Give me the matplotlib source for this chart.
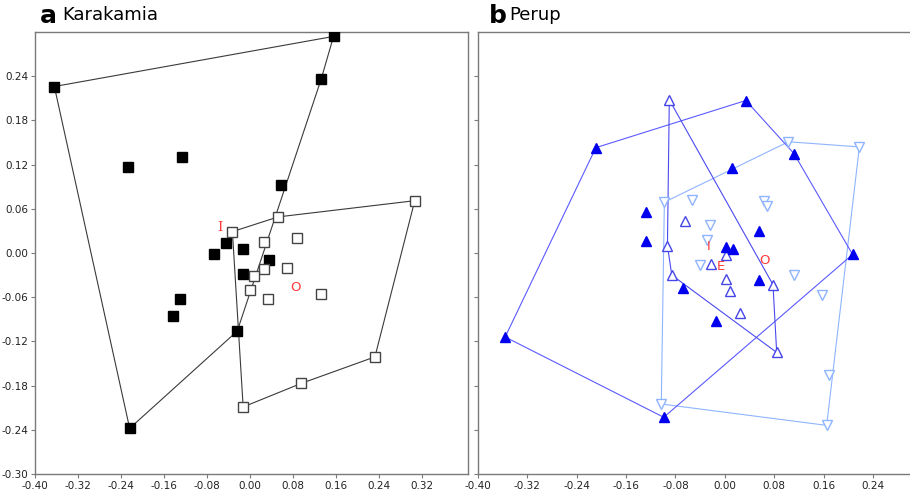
import numpy as np
import matplotlib
matplotlib.use("Agg")
import matplotlib.pyplot as plt

# ---- Karakamia (panel a) ----
kara_filled_x = [-0.364, 0.155, 0.132, -0.024, -0.224, -0.228, -0.127, 0.057,
                 -0.045, -0.067, -0.013, 0.035, -0.013, -0.131, -0.144]
kara_filled_y = [0.226, 0.294, 0.236, -0.106, -0.238, 0.117, 0.130, 0.092,
                 0.014, -0.001, 0.005, -0.010, -0.029, -0.062, -0.086]
kara_filled_hull = [0, 1, 2, 3, 4, 0]

kara_open_x = [-0.033, 0.052, 0.306, 0.232, 0.095, -0.013, 0.025, 0.088,
               0.025, 0.007, 0.069, -0.001, 0.033, 0.131]
kara_open_y = [0.029, 0.049, 0.071, -0.141, -0.177, -0.209, 0.015, 0.021,
               -0.022, -0.031, -0.021, -0.050, -0.063, -0.056]
kara_open_hull = [0, 1, 2, 3, 4, 5, 0]

kara_labels = ["I", "O"]
kara_label_x = [-0.057, 0.085]
kara_label_y = [0.034, -0.047]

# ---- Perup (panel b) ----
perup_filled_x = [-0.209, 0.034, 0.112, 0.207, -0.099, -0.356, 0.011, -0.127,
                  -0.127, 0.055, 0.002, 0.014, 0.055, -0.068, -0.015]
perup_filled_y = [0.143, 0.207, 0.135, -0.002, -0.223, -0.114, 0.115, 0.056,
                  0.016, 0.030, 0.008, 0.006, -0.036, -0.048, -0.092]
perup_filled_hull = [0, 1, 2, 3, 4, 5, 0]

perup_up_x = [-0.090, -0.093, -0.086, 0.084, 0.078, -0.065, 0.002, -0.022,
              0.002, 0.008, 0.024]
perup_up_y = [0.208, 0.010, -0.030, -0.135, -0.043, 0.043, -0.003, -0.015,
              -0.035, -0.051, -0.082]
perup_up_hull = [0, 1, 2, 3, 4, 0]

perup_down_x = [-0.098, 0.103, 0.218, 0.165, -0.103, -0.053, 0.064, 0.068,
                -0.024, -0.029, -0.040, 0.112, 0.157, 0.169]
perup_down_y = [0.069, 0.151, 0.144, -0.234, -0.205, 0.072, 0.071, 0.064,
                0.038, 0.018, -0.016, -0.030, -0.057, -0.166]
perup_down_hull = [0, 1, 2, 3, 4, 0]

perup_labels = ["I", "E", "O"]
perup_label_x = [-0.026, -0.006, 0.064]
perup_label_y = [0.009, -0.019, -0.010]

xticks_a = [-0.40, -0.32, -0.24, -0.16, -0.08, 0.00, 0.08, 0.16, 0.24, 0.32]
xticks_b = [-0.40, -0.32, -0.24, -0.16, -0.08, 0.00, 0.08, 0.16, 0.24]
yticks = [-0.30, -0.24, -0.18, -0.12, -0.06, 0.00, 0.06, 0.12, 0.18, 0.24]

label_red = "#ff3b3b"
frame_grey = "#7a7a7a"


def hull(ax, xs, ys, order, color):
    ax.plot([xs[i] for i in order], [ys[i] for i in order], color=color,
            lw=0.8, zorder=2)


def style(ax, xticks, show_y):
    ax.set_ylim(-0.30, 0.30)
    ax.set_xticks(xticks)
    ax.set_xticklabels([f"{t:.2f}" for t in xticks])
    ax.set_yticks(yticks)
    if show_y:
        ax.set_yticklabels([f"{t:.2f}" for t in yticks])
    else:
        ax.set_yticklabels([])
    ax.tick_params(labelsize=7.5, length=3, width=0.8, color=frame_grey,
                   labelcolor="#222222", pad=2)
    for s in ax.spines.values():
        s.set_color(frame_grey)
        s.set_linewidth(1.0)


fig = plt.figure(figsize=(9.1, 4.92), dpi=100)
ax1 = fig.add_axes([35 / 910, 18 / 492, 433 / 910, 442 / 492])
ax2 = fig.add_axes([478 / 910, 18 / 492, 440 / 910, 442 / 492])

# panel a
hull(ax1, kara_filled_x, kara_filled_y, kara_filled_hull, "#3a3a3a")
hull(ax1, kara_open_x, kara_open_y, kara_open_hull, "#3a3a3a")
ax1.plot(kara_filled_x, kara_filled_y, "s", ms=7, color="black", mec="black",
         ls="none", zorder=3)
ax1.plot(kara_open_x, kara_open_y, "s", ms=7, mfc="white", mec="#444444",
         mew=1.0, ls="none", zorder=3)
for t, x, y in zip(kara_labels, kara_label_x, kara_label_y):
    ax1.text(x, y, t, color=label_red, fontsize=9.5, ha="center", va="center",
             family="DejaVu Serif" if t == "I" else "DejaVu Sans", zorder=4)
ax1.set_xlim(-0.40, 0.405)
style(ax1, xticks_a, True)

# panel b
hull(ax2, perup_down_x, perup_down_y, perup_down_hull, "#8fb4ff")
hull(ax2, perup_filled_x, perup_filled_y, perup_filled_hull, "#5a5aff")
hull(ax2, perup_up_x, perup_up_y, perup_up_hull, "#4a4af0")
ax2.plot(perup_down_x, perup_down_y, "v", ms=7, mfc="white", mec="#8fb4ff",
         mew=1.0, ls="none", zorder=3)
ax2.plot(perup_up_x, perup_up_y, "^", ms=7, mfc="white", mec="#4545e8",
         mew=1.0, ls="none", zorder=3)
ax2.plot(perup_filled_x, perup_filled_y, "^", ms=6.5, color="#0000ee",
         ls="none", zorder=3)
for t, x, y in zip(perup_labels, perup_label_x, perup_label_y):
    ax2.text(x, y, t, color=label_red, fontsize=9.5, ha="center", va="center",
             zorder=4)
ax2.set_xlim(-0.40, 0.313)
style(ax2, xticks_b, False)
ax2.spines["right"].set_visible(False)

# panel headings
fig.text(40 / 910, 1 - 16 / 492, "a", fontsize=18, fontweight="bold",
         va="center", ha="left")
fig.text(62 / 910, 1 - 15 / 492, "Karakamia", fontsize=13, va="center",
         ha="left")
fig.text(489 / 910, 1 - 16 / 492, "b", fontsize=18, fontweight="bold",
         va="center", ha="left")
fig.text(509 / 910, 1 - 15 / 492, "Perup", fontsize=13, va="center",
         ha="left")

fig.savefig("out.png", dpi=100)
